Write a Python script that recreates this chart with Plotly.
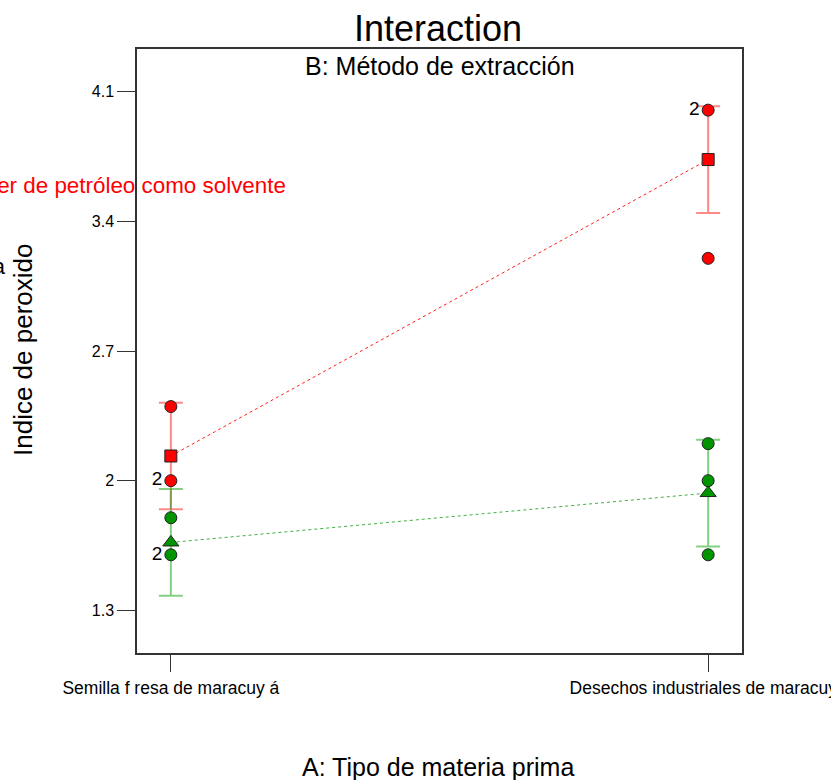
import plotly.graph_objects as go

# ---- data ----
categories = ["Semilla f resa de maracuy á", "Desechos industriales de maracuyá"]
series_names = ["Éter de petróleo como solvente", "Prensa hidráulica"]
# replicate observations (Indice de peroxido)
eter_obs = [[2.4, 2.0, 2.0], [4.0, 4.0, 3.2]]
prensa_obs = [[1.8, 1.6, 1.6], [2.2, 2.0, 1.6]]
lsd_half = [0.288, 0.288]   # half-width of LSD bars
y_ticks = [1.3, 2.0, 2.7, 3.4, 4.1]
y_tick_labels = ["1.3", "2", "2.7", "3.4", "4.1"]

FONT = "Liberation Sans, Arial, sans-serif"

def means(obs):
    return [sum(o) / len(o) for o in obs]

def collapse(obs):
    xs, ys, txt = [], [], []
    for cat, o in zip(categories, obs):
        seen = {}
        for v in o:
            seen[v] = seen.get(v, 0) + 1
        for v, c in seen.items():
            xs.append(cat)
            ys.append(v)
            txt.append(str(c) if c > 1 else "")
    return xs, ys, txt

fig = go.Figure()

styles = [
    dict(obs=eter_obs, fill="#FF0000", bar="rgba(255,40,40,0.55)", line="#FF2020",
         symbol="square", msize=12),
    dict(obs=prensa_obs, fill="#009400", bar="rgba(30,170,30,0.55)", line="#40B040",
         symbol="triangle-up", msize=14),
]

# error bars + dotted mean lines
for s in styles:
    m = means(s["obs"])
    fig.add_trace(go.Scatter(
        x=categories, y=m, mode="lines",
        line=dict(color=s["line"], width=1, dash="dot"),
        error_y=dict(type="data", array=lsd_half, symmetric=True,
                     color=s["bar"], thickness=2, width=12),
        showlegend=False, hoverinfo="skip"))

# observations
for s in styles:
    xs, ys, txt = collapse(s["obs"])
    fig.add_trace(go.Scatter(
        x=xs, y=ys, mode="markers+text", text=txt,
        textposition="middle left",
        textfont=dict(family=FONT, size=19, color="black"),
        marker=dict(symbol="circle", size=12, color=s["fill"],
                    line=dict(color="#222222", width=1)),
        showlegend=False, hoverinfo="skip"))

# means
for s in styles:
    m = means(s["obs"])
    fig.add_trace(go.Scatter(
        x=categories, y=m, mode="markers",
        marker=dict(symbol=s["symbol"], size=s["msize"], color=s["fill"],
                    line=dict(color="#222222", width=1)),
        showlegend=False, hoverinfo="skip"))

fig.update_xaxes(
    type="category", range=[-0.063, 1.063], automargin=False,
    showline=True, mirror=True, linecolor="#333333", linewidth=1.5,
    ticks="outside", ticklen=17, tickcolor="#333333", tickwidth=1,
    ticklabelstandoff=1,
    tickfont=dict(family=FONT, size=17.5, color="black"),
    showgrid=False, zeroline=False)
fig.update_yaxes(
    range=[1.07, 4.33], tickvals=y_ticks, ticktext=y_tick_labels, automargin=False,
    showline=True, mirror=True, linecolor="#333333", linewidth=1.5,
    ticks="outside", ticklen=18, tickcolor="#333333", tickwidth=1,
    tickfont=dict(family=FONT, size=16, color="black"),
    showgrid=False, zeroline=False)

ann = [
    dict(text="Interaction", x=0.497, y=1.0335, size=36, color="black"),
    dict(text="B: Método de extracción", x=0.5, y=0.9719, size=25, color="black"),
    dict(text="A: Tipo de materia prima", x=0.4975, y=-0.1885, size=25, color="black"),
]
annotations = [dict(text=a["text"], x=a["x"], y=a["y"], xref="paper", yref="paper",
                    xanchor="center", yanchor="middle", showarrow=False,
                    font=dict(family=FONT, size=a["size"], color=a["color"]))
               for a in ann]
annotations.append(dict(text="Indice de peroxido", x=-0.1884, y=0.5017, xref="paper",
                        yref="paper", xanchor="center", yanchor="middle", textangle=-90,
                        showarrow=False, font=dict(family=FONT, size=26, color="black")))
annotations.append(dict(text=series_names[0], x=0.2495, y=0.7745, xref="paper",
                        yref="paper", xanchor="right", yanchor="middle", showarrow=False,
                        font=dict(family=FONT, size=22.4, color="#FF0000")))
annotations.append(dict(text=series_names[1], x=-0.2132, y=0.6407, xref="paper",
                        yref="paper", xanchor="right", yanchor="middle", showarrow=False,
                        font=dict(family=FONT, size=22, color="black")))

fig.update_layout(
    width=831, height=780, autosize=False,
    margin=dict(l=137, r=89, t=49, b=127, autoexpand=False),
    paper_bgcolor="white", plot_bgcolor="white",
    annotations=annotations,
    font=dict(family=FONT),
)

post = ("document.documentElement.style.margin='0';"
        "document.body.style.margin='0';document.body.style.padding='0';"
        "document.body.style.overflow='hidden';"
        "var gd=document.getElementById('{plot_id}');"
        "Plotly.relayout(gd,{width:831,height:780});")

fig.write_html("out.html", config={"responsive": False, "displayModeBar": False},
               post_script=post)
